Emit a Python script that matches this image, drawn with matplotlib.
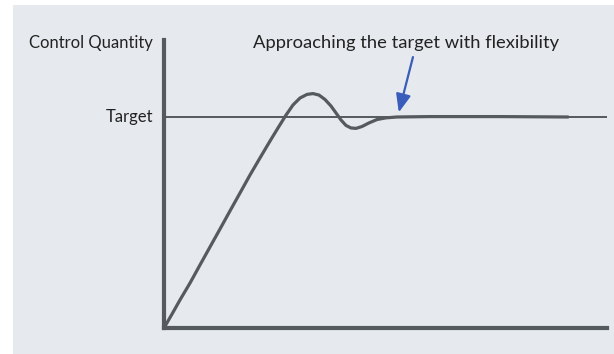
import matplotlib
matplotlib.use("Agg")
import matplotlib.pyplot as plt
from matplotlib.patches import Rectangle

plt.rcParams['font.family'] = ['Lato', 'DejaVu Sans']

# response curve (time, control quantity; target = 1)
time = [0.0, 1.81, 3.61, 5.87, 8.13, 10.38, 12.64, 14.90, 17.16, 19.41, 21.67, 23.93,
        25.73, 27.54, 29.12, 30.70, 32.28, 33.63, 34.99, 36.34, 37.70, 38.83, 39.95,
        41.08, 42.21, 43.34, 44.70, 46.28, 48.08, 50.11, 52.60, 60.05, 75.85, 91.20]
quantity = [0, 0.066, 0.133, 0.213, 0.299, 0.384, 0.469, 0.555, 0.640, 0.725, 0.806, 0.886,
            0.948, 1.009, 1.057, 1.090, 1.107, 1.111, 1.104, 1.083, 1.052, 1.019, 0.986,
            0.960, 0.948, 0.946, 0.955, 0.972, 0.988, 0.996, 1.0, 1.002, 1.002, 1.0]
target = 1.0
y_label = "Control Quantity"
target_label = "Target"
note = "Approaching the target with flexibility"
arrow_tail = (56.2, 1.284)
arrow_tip = (53.0, 1.022)

axis_color = "#545a5d"
bg = "#e6e9ed"
text_color = "#222222"

fig = plt.figure(figsize=(6.14, 3.54), dpi=100)
fig.patch.set_facecolor("white")
fig.patches.append(Rectangle((13 / 614, 0), 601 / 614, 349 / 354, transform=fig.transFigure,
                             facecolor=bg, edgecolor="none", zorder=-10))

ax = fig.add_axes([164 / 614, 26 / 354, 443 / 614, 288 / 354])
ax.set_facecolor("none")
ax.set_xlim(0, 100)
ax.set_ylim(0, 288 / 211)

for s in ["top", "right"]:
    ax.spines[s].set_visible(False)
for s in ["left", "bottom"]:
    ax.spines[s].set_color(axis_color)
    ax.spines[s].set_linewidth(3)
ax.set_xticks([])
ax.set_yticks([])

ax.axhline(target, color=axis_color, lw=1.4, zorder=2)
ax.plot(time, quantity, color=axis_color, lw=2.3, solid_joinstyle="round",
        solid_capstyle="round", zorder=3, clip_on=False)

ax.text(-2.4, 1.352, y_label, ha="right", va="center", fontsize=12.0, color=text_color)
ax.text(-2.4, target, target_label, ha="right", va="center", fontsize=12.0, color=text_color)

ax.text(54.6, 1.352, note, ha="center", va="center", fontsize=13.2, color=text_color)
ax.annotate("", xy=arrow_tip, xytext=arrow_tail,
            arrowprops=dict(arrowstyle="-|>,head_width=0.45,head_length=1.1",
                            mutation_scale=10, color="#3a5cba", lw=1.6,
                            shrinkA=0, shrinkB=0))

fig.savefig("out.png", dpi=100)
